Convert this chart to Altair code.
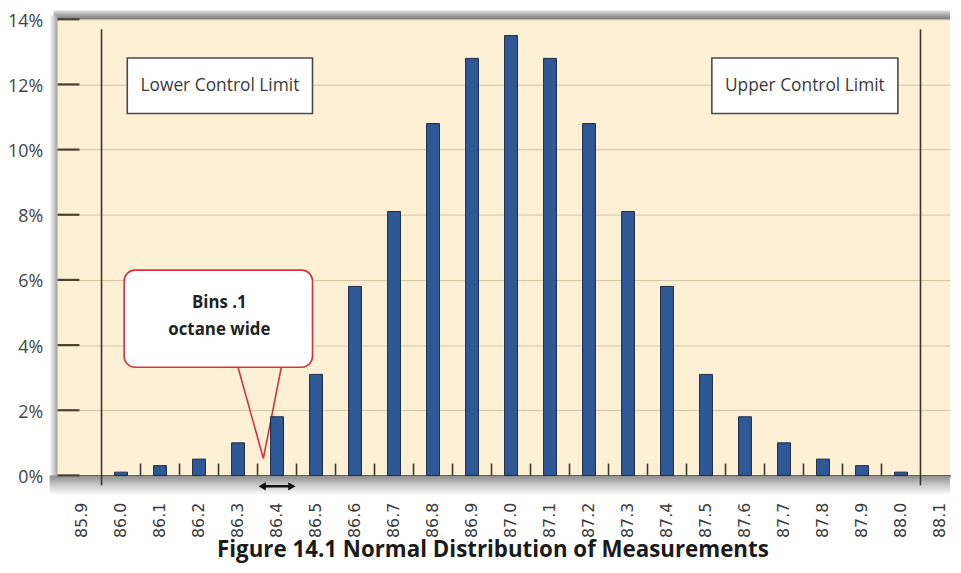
import altair as alt
import pandas as pd

# ---------------- data ----------------
BIN_CENTERS = [86.0, 86.1, 86.2, 86.3, 86.4, 86.5, 86.6, 86.7, 86.8, 86.9, 87.0,
               87.1, 87.2, 87.3, 87.4, 87.5, 87.6, 87.7, 87.8, 87.9, 88.0]
PERCENTS = [0.1, 0.3, 0.5, 1.0, 1.8, 3.1, 5.8, 8.1, 10.8, 12.8, 13.5,
            12.8, 10.8, 8.1, 5.8, 3.1, 1.8, 1.0, 0.5, 0.3, 0.1]
X_LABELS = [85.9, 86.0, 86.1, 86.2, 86.3, 86.4, 86.5, 86.6, 86.7, 86.8, 86.9, 87.0,
            87.1, 87.2, 87.3, 87.4, 87.5, 87.6, 87.7, 87.8, 87.9, 88.0, 88.1]
BIN_EDGES = [86.05, 86.15, 86.25, 86.35, 86.45, 86.55, 86.65, 86.75, 86.85, 86.95,
             87.05, 87.15, 87.25, 87.35, 87.45, 87.55, 87.65, 87.75, 87.85, 87.95]
Y_TICKS = [0, 2, 4, 6, 8, 10, 12, 14]
CONTROL_LIMITS = [85.95, 88.05]
LIMIT_LABELS = ["Lower Control Limit", "Upper Control Limit"]
CALLOUT_LINES = ["Bins .1", "octane wide"]
TITLE = "Figure 14.1 Normal Distribution of Measurements"

W, H = 900, 460
xscale = alt.Scale(domain=[85.85, 85.85 + W / 397.7], nice=False, zero=False)
yscale = alt.Scale(domain=[0, 14], nice=False, zero=True)

bars_df = pd.DataFrame({"octane": BIN_CENTERS, "pct": PERCENTS})

# ---------------- shadows around the plot frame ----------------
one = pd.DataFrame({"a": [0]})


def grad(stops, horizontal=False):
    return alt.Gradient(
        gradient="linear",
        stops=[alt.GradientStop(color=c, offset=o) for o, c in stops],
        x1=0, y1=0, x2=1 if horizontal else 0, y2=0 if horizontal else 1,
    )


shadow_top = alt.Chart(one).mark_rect(
    color=grad([(0, "#e6e6e6"), (0.5, "#a8a8a8"), (1, "#7a7a7a")])
).encode(x=alt.value(-4), x2=alt.value(W), y=alt.value(-9), y2=alt.value(0))

shadow_left = alt.Chart(one).mark_rect(
    color=grad([(0, "#ffffff"), (1, "#a0a0a0")], horizontal=True)
).encode(x=alt.value(-8), x2=alt.value(0), y=alt.value(-4), y2=alt.value(H + 6))

shadow_bottom = alt.Chart(one).mark_rect(
    color=grad([(0, "#8a8a8a"), (0.5, "#cccccc"), (1, "#ffffff")])
).encode(x=alt.value(-8), x2=alt.value(W), y=alt.value(H), y2=alt.value(H + 20))

# ---------------- control limit lines ----------------
limits_df = pd.DataFrame({"x": CONTROL_LIMITS})
limit_lines = alt.Chart(limits_df).mark_rule(color="#3c3631", strokeWidth=1.6).encode(
    x=alt.X("x:Q", scale=xscale), y=alt.value(10), y2=alt.value(H + 10)
)

# ---------------- control limit boxes ----------------
boxes_df = pd.DataFrame({
    "label": LIMIT_LABELS,
    "x1": [86.016, 87.515], "x2": [86.491, 87.992],
    "y1": [12.81, 12.81], "y2": [11.11, 11.11],
    "xc": [86.2535, 87.7535], "yc": [11.96, 11.96],
})
box_rects = alt.Chart(boxes_df).mark_rect(
    fill="white", stroke="#4a4a4a", strokeWidth=1.6
).encode(
    x=alt.X("x1:Q", scale=xscale), x2="x2:Q",
    y=alt.Y("y1:Q", scale=yscale), y2="y2:Q",
)
box_text = alt.Chart(boxes_df).mark_text(
    font="Open Sans", fontSize=17.5, color="#3a3a3a", align="center", baseline="middle"
).encode(
    x=alt.X("xc:Q", scale=xscale), y=alt.Y("yc:Q", scale=yscale), text="label:N"
)

# ---------------- callout ----------------
callout_df = pd.DataFrame({"x1": [86.008], "x2": [86.491], "y1": [6.30], "y2": [3.32]})
callout_rect = alt.Chart(callout_df).mark_rect(
    fill="white", stroke="#cf3440", strokeWidth=1.6, cornerRadius=11
).encode(
    x=alt.X("x1:Q", scale=xscale), x2="x2:Q",
    y=alt.Y("y1:Q", scale=yscale), y2="y2:Q",
)
pointer_df = pd.DataFrame({
    "x": [86.300, 86.365, 86.411],
    "y": [3.32, 0.52, 3.32],
    "ybase": [3.42, 3.42, 3.42],
    "o": [0, 1, 2],
})
pointer_fill = alt.Chart(pointer_df).mark_area(color="white", opacity=1, orient="vertical").encode(
    x=alt.X("x:Q", scale=xscale), y=alt.Y("y:Q", scale=yscale), y2="ybase:Q", order="o:Q"
)
pointer_line = alt.Chart(pointer_df).mark_line(color="#cf3440", strokeWidth=1.6).encode(
    x=alt.X("x:Q", scale=xscale), y=alt.Y("y:Q", scale=yscale), order="o:Q"
)
callout_text_df = pd.DataFrame({"t": CALLOUT_LINES, "x": [86.252, 86.252], "y": [5.28, 4.45]})
callout_text = alt.Chart(callout_text_df).mark_text(
    font="Open Sans", fontSize=17, fontWeight="bold", color="#222222",
    align="center", baseline="middle"
).encode(x=alt.X("x:Q", scale=xscale), y=alt.Y("y:Q", scale=yscale), text="t:N")

# ---------------- bars ----------------
bars = alt.Chart(bars_df).mark_bar(
    size=13, color="#2E5896", stroke="#1d2b47", strokeWidth=1
).encode(
    x=alt.X(
        "octane:Q", scale=xscale, title=None,
        axis=alt.Axis(
            values=X_LABELS, format=".1f", labelAngle=270,
            labelFont="DejaVu Sans", labelFontSize=16, labelColor="#3a3a3a",
            labelPadding=27, ticks=False, tickSize=0, domain=True,
            domainColor="#3c3631", domainWidth=2, grid=False,
            labelOverlap=False, labelFlush=False,
        ),
    ),
    y=alt.Y(
        "pct:Q", scale=yscale, title=None,
        axis=alt.Axis(
            values=Y_TICKS, labelExpr="datum.value + '%'",
            labelFont="Open Sans", labelFontSize=18, labelColor="#444444",
            labelPadding=15, labelOffset=2, ticks=False, tickSize=0, domain=False,
            grid=True, gridColor="#d3c5a2", gridWidth=1,
        ),
    ),
)

# ---------------- ticks ----------------
edges_df = pd.DataFrame({"x": BIN_EDGES})
x_ticks = alt.Chart(edges_df).mark_rule(color="#3c3631", strokeWidth=1.6).encode(
    x=alt.X("x:Q", scale=xscale), y=alt.value(H - 12), y2=alt.value(H)
)
yt_df = pd.DataFrame({"y": Y_TICKS})
y_ticks = alt.Chart(yt_df).mark_rule(color="#4b4036", strokeWidth=2.2).encode(
    y=alt.Y("y:Q", scale=yscale), x=alt.value(0), x2=alt.value(22)
)

# ---------------- bin-width arrow ----------------
arrow_df = pd.DataFrame({"x1": [BIN_EDGES[3] + 0.008], "x2": [BIN_EDGES[4] - 0.008]})
arrow_shaft = alt.Chart(arrow_df).mark_rule(color="#111111", strokeWidth=2.5).encode(
    x=alt.X("x1:Q", scale=xscale), x2="x2:Q", y=alt.value(H + 11)
)
heads_df = pd.DataFrame({
    "x": [BIN_EDGES[3] + 0.012, BIN_EDGES[4] - 0.012],
    "shape": ["triangle-left", "triangle-right"],
})
arrow_heads = alt.Chart(heads_df).mark_point(
    filled=True, color="#111111", size=70, opacity=1
).encode(
    x=alt.X("x:Q", scale=xscale), y=alt.value(H + 11),
    shape=alt.Shape("shape:N", scale=None, legend=None),
)

# ---------------- figure caption (below the axis labels) ----------------
title_df = pd.DataFrame({"t": [TITLE]})
caption = alt.Chart(title_df).mark_text(
    font="Open Sans", fontSize=22.5, fontWeight="bold", color="#1a1a1a",
    align="center", baseline="alphabetic"
).encode(x=alt.value(439), y=alt.value(542), text="t:N")

chart = alt.layer(
    shadow_top, shadow_left, shadow_bottom,
    limit_lines,
    box_rects, box_text,
    callout_rect, pointer_fill, pointer_line, callout_text,
    bars, x_ticks, y_ticks,
    arrow_shaft, arrow_heads, caption,
).properties(
    width=W, height=H,
    autosize=alt.AutoSizeParams(type="none"),
    padding={"left": 50, "top": 9, "right": 3, "bottom": 88},
    background="white",
).configure_view(
    fill="#FDF0D4", stroke=None
)

chart.save("out.html", embed_options={"renderer": "svg", "actions": False})
